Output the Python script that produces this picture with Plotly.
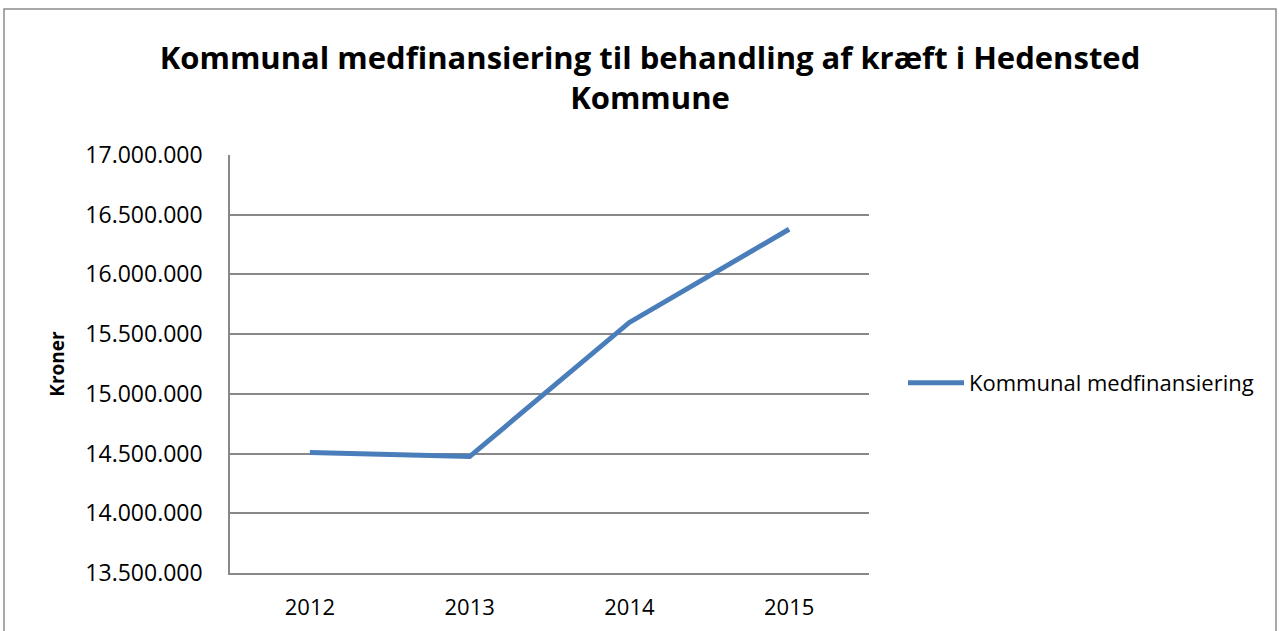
import plotly.graph_objects as go

years = ["2012", "2013", "2014", "2015"]
values = [14510000, 14475000, 15598000, 16378000]
series_name = "Kommunal medfinansiering"
y_ticks = [13500000, 14000000, 14500000, 15000000, 15500000, 16000000, 16500000, 17000000]
y_tick_labels = ["13.500.000", "14.000.000", "14.500.000", "15.000.000",
                 "15.500.000", "16.000.000", "16.500.000", "17.000.000"]

W, H = 1279, 631
L, R, T, B = 230, 869, 155, 573
FONT = "Open Sans"

fig = go.Figure()
fig.add_trace(go.Scatter(
    x=years, y=values, mode="lines", name=series_name,
    line=dict(color="#4A7EBB", width=5),
))

grid = "#888888"
fig.update_layout(
    width=W, height=H,
    margin=dict(l=L, r=W - R, t=T, b=H - B, autoexpand=False),
    paper_bgcolor="white", plot_bgcolor="white",
    font=dict(family=FONT, color="black", size=22),
    title=dict(
        text="<b>Kommunal medfinansiering til behandling af kræft i Hedensted<br>Kommune</b>",
        x=650 / W, xanchor="center", y=1 - 69 / H, yanchor="middle",
        font=dict(family=FONT, size=31, color="black"),
    ),
    xaxis=dict(
        type="category", range=[-0.5, 3.5], showgrid=False,
        showline=True, linecolor=grid, linewidth=2,
        ticks="", tickfont=dict(size=22), ticklabelstandoff=14,
    ),
    yaxis=dict(
        range=[13500000, 17000000], tickvals=y_ticks, ticktext=y_tick_labels,
        showgrid=True, gridcolor=grid, gridwidth=1.5,
        showline=True, linecolor=grid, linewidth=1.5,
        ticks="", ticklabelstandoff=21,
        tickfont=dict(size=23), zeroline=False,
        title=dict(text="<b>Kroner</b>", font=dict(size=19), standoff=16),
    ),
    legend=dict(
        x=(903 - L) / (R - L), y=(B - 383) / (B - T), xanchor="left", yanchor="middle",
        font=dict(size=22), bgcolor="rgba(0,0,0,0)", itemwidth=56,
    ),
    showlegend=True,
)

# outer chart border
fig.add_shape(
    type="rect", xref="paper", yref="paper",
    x0=(4 - L) / (R - L), x1=(1276 - L) / (R - L),
    y0=(B - 640) / (B - T), y1=(B - 9) / (B - T),
    line=dict(color="#8C8C8C", width=1.5), fillcolor="rgba(0,0,0,0)", layer="below",
)

fig.write_html(
    "out.html",
    config={"displayModeBar": False},
    post_script="document.body.style.margin='0';document.body.style.overflow='hidden';",
)
